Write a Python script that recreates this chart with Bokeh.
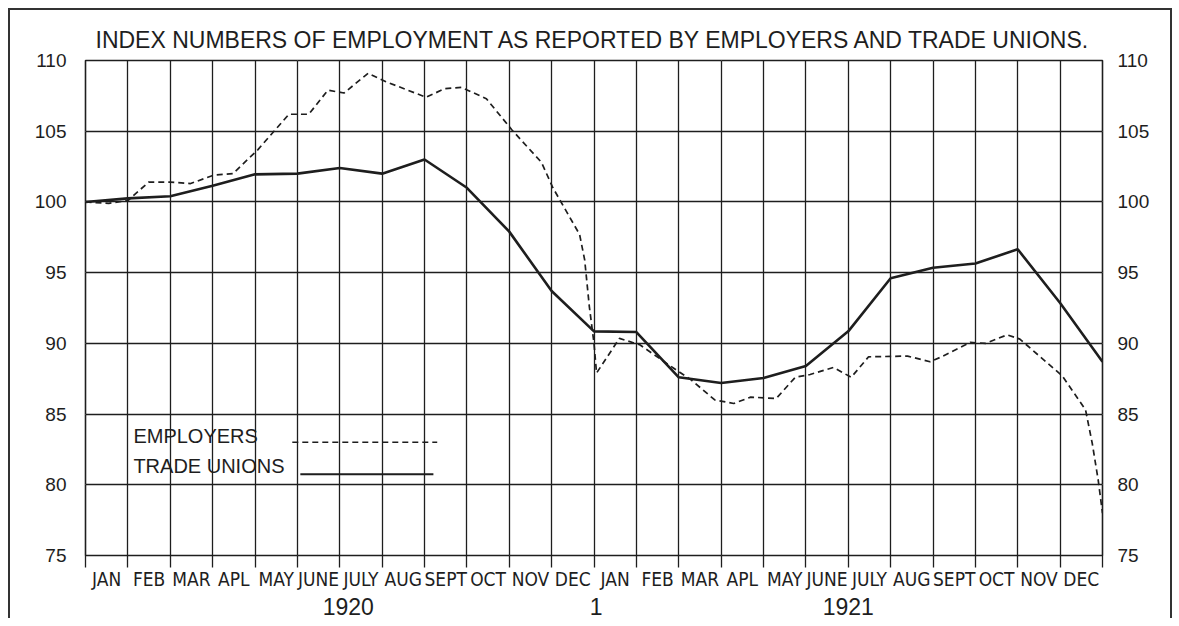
from bokeh.plotting import figure
from bokeh.models import (LinearAxis, FixedTicker, Grid, Label)
from bokeh.embed import file_html
from bokeh.resources import INLINE

# ---------------- data ----------------
MONTHS = ["JAN", "FEB", "MAR", "APL", "MAY", "JUNE", "JULY", "AUG", "SEPT", "OCT", "NOV", "DEC",
          "JAN", "FEB", "MAR", "APL", "MAY", "JUNE", "JULY", "AUG", "SEPT", "OCT", "NOV", "DEC"]
YEARS = ["1920", "1", "1921"]
YEAR_AT = [6.2, 12.05, 18.0]          # month index under which each year label sits
Y_TICKS = [75, 80, 85, 90, 95, 100, 105, 110]

# Trade unions: one reading at the start of each month, Jan 1920 .. Jan 1922
TU_T = list(range(25))
TU_V = [100.0, 100.25, 100.4, 101.15, 101.95, 102.0, 102.4, 102.0, 103.0, 101.0, 97.9, 93.7,
        90.85, 90.8, 87.6, 87.2, 87.55, 88.4, 90.85, 94.6, 95.35, 95.65, 96.65, 92.85, 88.7]

# Employers: more frequent readings (time in months from Jan 1920)
EMP_T = [0.0, 0.55, 1.0, 1.49, 2.0, 2.48, 3.03, 3.48, 4.07, 4.8, 5.27, 5.72, 6.1, 6.67, 7.09,
         8.04, 8.47, 8.87, 9.46, 10.06, 10.76, 11.03, 11.66, 11.78, 11.89, 12.0, 12.06,
         12.6, 13.08, 13.9, 14.3, 14.85, 15.3, 15.7, 16.3, 16.75, 17.1, 17.65, 18.07, 18.48,
         19.4, 19.93, 20.2, 20.88, 21.24, 21.75, 22.05, 23.05, 23.6, 23.76, 23.9, 24.0]
EMP_V = [100.0, 99.9, 100.1, 101.4, 101.4, 101.3, 101.9, 102.0, 103.7, 106.2, 106.2, 107.9,
         107.7, 109.1, 108.5, 107.4, 108.0, 108.1, 107.3, 105.1, 102.8, 101.0, 97.7, 95.9,
         92.6, 90.0, 87.9, 90.35, 89.9, 88.2, 87.4, 86.0, 85.75, 86.2, 86.1, 87.6, 87.8,
         88.3, 87.6, 89.05, 89.1, 88.7, 89.05, 90.07, 90.0, 90.6, 90.3, 87.7, 85.3, 82.9,
         80.3, 78.0]

TITLE = "INDEX NUMBERS OF EMPLOYMENT AS REPORTED BY EMPLOYERS AND TRADE UNIONS."
LEGEND_NAMES = ["EMPLOYERS", "TRADE UNIONS"]

# ---------------- styling ----------------
INK = "#1e1e1e"
FONT_N = "DejaVu Sans Condensed, Liberation Sans"
FONT = "Liberation Sans"

p = figure(width=1160, height=610, x_range=(0, 24), y_range=(75, 110),
           output_backend="svg", toolbar_location=None,
           x_axis_location=None, y_axis_location=None,
           min_border_left=75, min_border_right=68, min_border_top=50, min_border_bottom=65)
p.background_fill_color = "white"
p.border_fill_color = "white"
p.outline_line_color = INK
p.outline_line_width = 1.6
p.styles = {"margin-left": "10px", "margin-top": "10px",
            "box-shadow": "-2px -2px 0 0 #333, 2px -2px 0 0 #333"}

p.title.text = TITLE
p.title.align = "left"
p.title.offset = 10
p.title.standoff = 16
p.title.text_font = FONT
p.title.text_font_style = "normal"
p.title.text_font_size = "23px"
p.title.text_color = INK

p.add_layout(Grid(dimension=0, ticker=FixedTicker(ticks=list(range(25))),
                  grid_line_color=INK, grid_line_width=1.3))
p.add_layout(Grid(dimension=1, ticker=FixedTicker(ticks=Y_TICKS),
                  grid_line_color=INK, grid_line_width=1.3))

# month axis
mid = [i + 0.5 for i in range(len(MONTHS))]
ax_m = LinearAxis(ticker=FixedTicker(ticks=mid, minor_ticks=list(range(25))),
                  major_label_overrides={m: t for m, t in zip(mid, MONTHS)},
                  major_tick_line_color=None, major_tick_out=0, major_tick_in=0,
                  minor_tick_out=12, minor_tick_in=0, minor_tick_line_color=INK,
                  minor_tick_line_width=1.3, axis_line_color=None,
                  major_label_standoff=0, major_label_text_font=FONT_N,
                  major_label_text_font_size="19px", major_label_text_color=INK)
p.add_layout(ax_m, "below")
ax_y = LinearAxis(ticker=FixedTicker(ticks=YEAR_AT),
                  major_label_overrides={a: t for a, t in zip(YEAR_AT, YEARS)},
                  major_tick_line_color=None, major_tick_out=0, major_tick_in=0,
                  minor_tick_line_color=None, axis_line_color=None,
                  major_label_standoff=5, major_label_text_font=FONT,
                  major_label_text_font_size="23px", major_label_text_color=INK)
p.add_layout(ax_y, "below")

for side, sto in (("left", 19), ("right", 15)):
    ax = LinearAxis(ticker=FixedTicker(ticks=Y_TICKS), major_tick_out=0, major_tick_in=0,
                    minor_tick_line_color=None, axis_line_color=None,
                    major_label_standoff=sto, major_label_text_font=FONT,
                    major_label_text_font_size="19px", major_label_text_color=INK)
    p.add_layout(ax, side)

# series
p.line(EMP_T, EMP_V, line_color=INK, line_width=1.7, line_dash="6 4")
p.line(TU_T, TU_V, line_color=INK, line_width=2.6)

# legend (label on the left, sample line on the right)
p.add_layout(Label(x=1.13, y=83.45, text=LEGEND_NAMES[0], text_baseline="middle",
                   text_font=FONT, text_font_size="20px", text_color=INK))
p.add_layout(Label(x=1.13, y=81.3, text=LEGEND_NAMES[1], text_baseline="middle",
                   text_font=FONT, text_font_size="20px", text_color=INK))
p.line([4.88, 8.3], [83.0, 83.0], line_color=INK, line_width=1.5, line_dash="6 4")
p.line([5.07, 8.21], [80.75, 80.75], line_color=INK, line_width=2.0)

open("out.html", "w").write(file_html(p, INLINE))
